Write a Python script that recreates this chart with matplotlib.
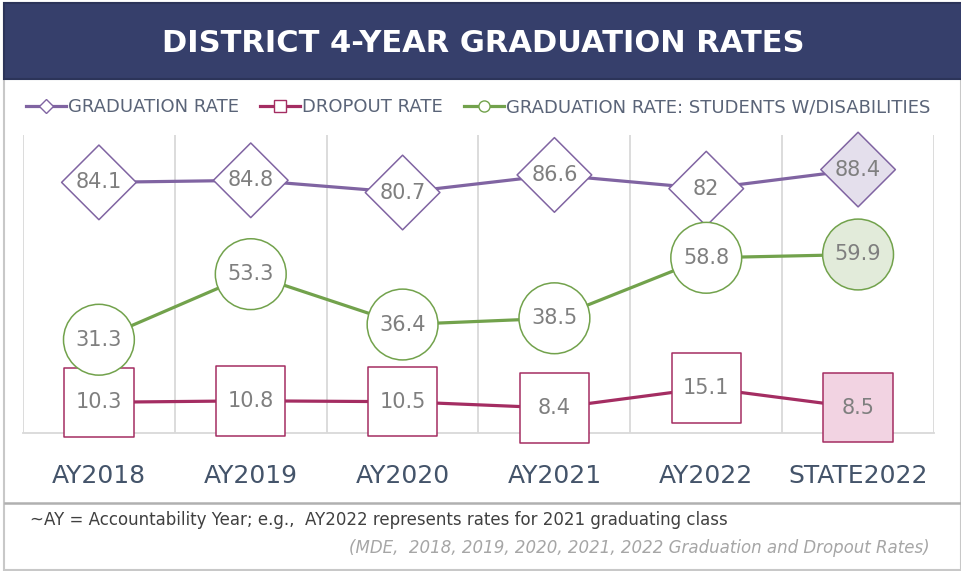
import matplotlib.pyplot as plt
from matplotlib.lines import Line2D
from matplotlib.patches import Rectangle

# chart values
categories = ["AY2018", "AY2019", "AY2020", "AY2021", "AY2022", "STATE2022"]
grad_rate = [84.1, 84.8, 80.7, 86.6, 82, 88.4]
dropout_rate = [10.3, 10.8, 10.5, 8.4, 15.1, 8.5]
swd_grad_rate = [31.3, 53.3, 36.4, 38.5, 58.8, 59.9]
series_names = ["GRADUATION RATE", "DROPOUT RATE", "GRADUATION RATE: STUDENTS W/DISABILITIES"]

title = "DISTRICT 4-YEAR GRADUATION RATES"
note = "~AY = Accountability Year; e.g.,  AY2022 represents rates for 2021 graduating class"
source = "(MDE,  2018, 2019, 2020, 2021, 2022 Graduation and Dropout Rates)"

purple = "#8064A2"
berry = "#A42D62"
green = "#72A24C"
label_grey = "#7F7F7F"
axis_text = "#44546A"

fig = plt.figure(figsize=(9.62, 5.71), dpi=100)
W, H = 962, 571

def fx(px):
    return px / W

def fy(py):
    return 1 - py / H

# outer frame + title banner
fig.patches.append(Rectangle((fx(4), fy(570)), fx(957), 567 / H, transform=fig.transFigure,
                             fill=False, edgecolor="#C8C8C8", linewidth=1.5))
fig.patches.append(Rectangle((fx(4), fy(79)), fx(958), 76 / H, transform=fig.transFigure,
                             facecolor="#363F6B", edgecolor="#2C3459", linewidth=1.5))
fig.text(0.502, fy(43), title, ha="center", va="center", color="white", fontsize=22,
         fontweight="bold")

# separator above the footnote
fig.add_artist(Line2D([fx(5), fx(961)], [fy(503), fy(503)], color="#B0B0B0", linewidth=1.8))
fig.text(fx(30), fy(520), note, ha="left", va="center", color="#404040", fontsize=12)
fig.text(fx(930), fy(548), source, ha="right", va="center", color="#A6A6A6",
         fontsize=12, style="italic")

ax = fig.add_axes([fx(23), fy(433), fx(934) - fx(23), (433 - 135) / H])
x = list(range(len(categories)))

styles = [
    (grad_rate, purple, "D", 38, "#E4DFEC"),
    (dropout_rate, berry, "s", 50, "#F2D3E2"),
    (swd_grad_rate, green, "o", 51, "#E2EBDA"),
]

z = 2
for vals, col, mk, ms, tint in styles:
    ax.plot(x, vals, color=col, linewidth=2.3, zorder=z, solid_capstyle="butt", clip_on=False)
    faces = ["white"] * (len(vals) - 1) + [tint]
    ax.scatter(x, vals, s=ms ** 2, marker=mk, facecolors=faces, edgecolors=col,
               linewidths=1.1, zorder=z + 1, clip_on=False)
    for xi, v in zip(x, vals):
        ax.text(xi, v, f"{v:g}", ha="center", va="center", color=label_grey,
                fontsize=15, zorder=z + 2)
    z += 3

ax.set_xlim(-0.5, len(categories) - 0.5)
ax.set_ylim(0, 100)
ax.set_xticks(x)
ax.set_xticklabels(categories, fontsize=18, color=axis_text)
ax.set_xticks([i - 0.5 for i in range(len(categories) + 1)], minor=True)
ax.tick_params(axis="x", which="both", length=0, pad=22)
ax.set_yticks([])
ax.grid(axis="x", which="minor", color="#D9D9D9", linewidth=1.3)
for s in ["left", "right", "top"]:
    ax.spines[s].set_visible(False)
ax.spines["bottom"].set_color("#D9D9D9")
ax.spines["bottom"].set_linewidth(1.3)
ax.set_facecolor("none")

handles = [
    Line2D([], [], color=purple, linewidth=2.3, marker="D", markersize=7,
           markerfacecolor="white", markeredgecolor=purple),
    Line2D([], [], color=berry, linewidth=2.3, marker="s", markersize=9,
           markerfacecolor="white", markeredgecolor=berry),
    Line2D([], [], color=green, linewidth=2.3, marker="o", markersize=8,
           markerfacecolor="white", markeredgecolor=green),
]
leg = fig.legend(handles, series_names, loc="center", bbox_to_anchor=(0.497, fy(107)),
                 ncol=3, frameon=False, fontsize=13, handlelength=2.2,
                 handletextpad=0.1, columnspacing=1.2)
for t in leg.get_texts():
    t.set_color("#5A6478")

fig.savefig("out.png", dpi=100)
